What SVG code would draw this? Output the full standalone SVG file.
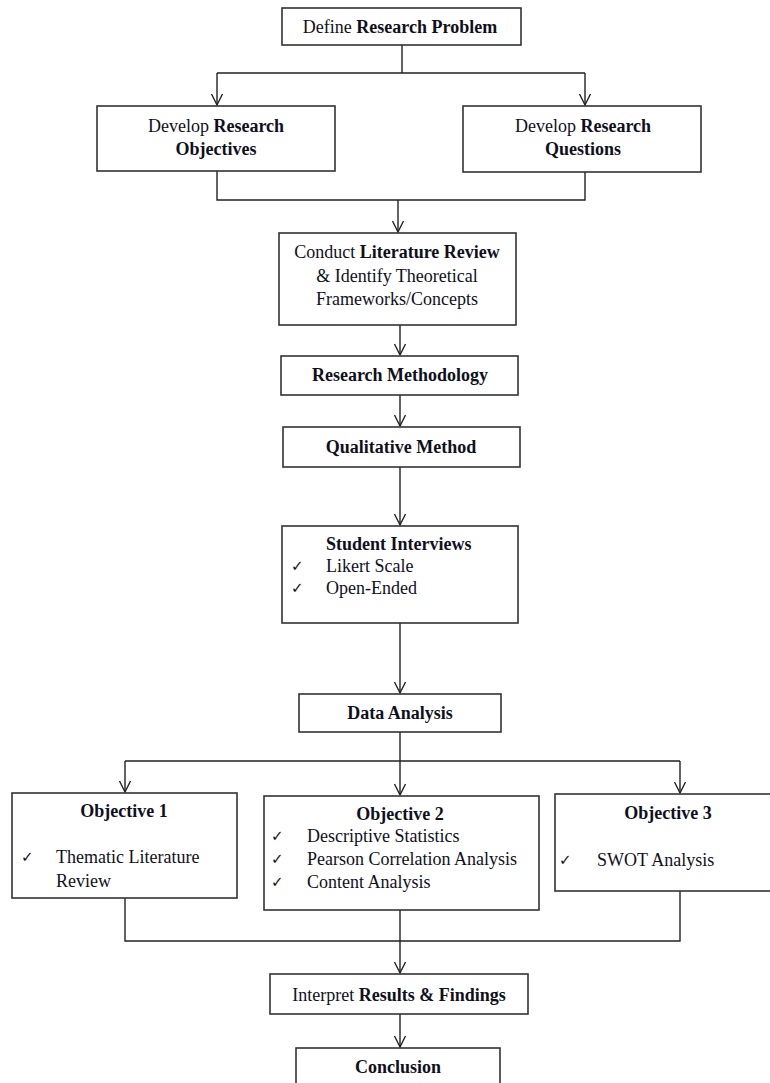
<svg xmlns="http://www.w3.org/2000/svg" width="770" height="1083" viewBox="0 0 770 1083">
<defs>
<style>
.box{fill:#fff;stroke:#333;stroke-width:1.6}
.ln{fill:none;stroke:#222;stroke-width:1.4}
.t{font-family:"Liberation Serif","Times New Roman",serif;font-size:18px;fill:#10101c}
.c{text-anchor:middle}
.b{font-weight:bold}
.ck{font-family:"DejaVu Sans",sans-serif;font-size:15px;fill:#10101c}
</style>
<marker id="arr" markerUnits="userSpaceOnUse" markerWidth="14" markerHeight="14" viewBox="-12 -7 14 14" refX="0" refY="0" orient="auto">
<path d="M-11,-5.5 L0,0 L-11,5.5" fill="none" stroke="#222" stroke-width="1.4"/>
</marker>
</defs>
<rect width="770" height="1083" fill="#fff"/>
<g id="connectors">
<path class="ln" d="M402,45 V73 M217,73 H585"/>
<path class="ln" d="M217,73 V105" marker-end="url(#arr)"/>
<path class="ln" d="M585,73 V105" marker-end="url(#arr)"/>
<path class="ln" d="M217,171 V200 H585 V172"/>
<path class="ln" d="M398,200 V232" marker-end="url(#arr)"/>
<path class="ln" d="M400,325 V355" marker-end="url(#arr)"/>
<path class="ln" d="M400,395 V426" marker-end="url(#arr)"/>
<path class="ln" d="M400,467 V525" marker-end="url(#arr)"/>
<path class="ln" d="M400,623 V693" marker-end="url(#arr)"/>
<path class="ln" d="M400,732 V761 M125,761 H680"/>
<path class="ln" d="M125,761 V792" marker-end="url(#arr)"/>
<path class="ln" d="M400,761 V795" marker-end="url(#arr)"/>
<path class="ln" d="M680,761 V793" marker-end="url(#arr)"/>
<path class="ln" d="M125,898 V941 H680 V891 M400,910 V941"/>
<path class="ln" d="M400,941 V973" marker-end="url(#arr)"/>
<path class="ln" d="M400,1014 V1047" marker-end="url(#arr)"/>
</g>
<g id="define-problem">
<rect class="box" x="282" y="8" width="239" height="37"/>
<text class="t c" x="400" y="33">Define <tspan class="b">Research Problem</tspan></text>
</g>
<g id="research-objectives">
<rect class="box" x="97" y="106" width="238" height="65"/>
<text class="t c" x="216" y="132">Develop <tspan class="b">Research</tspan></text>
<text class="t c b" x="216" y="155">Objectives</text>
</g>
<g id="research-questions">
<rect class="box" x="463" y="106" width="238" height="66"/>
<text class="t c" x="583" y="132">Develop <tspan class="b">Research</tspan></text>
<text class="t c b" x="583" y="155">Questions</text>
</g>
<g id="literature-review">
<rect class="box" x="279" y="233" width="237" height="92"/>
<text class="t c" x="397" y="258">Conduct <tspan class="b">Literature Review</tspan></text>
<text class="t c" x="397" y="282">&amp; Identify Theoretical</text>
<text class="t c" x="397" y="305">Frameworks/Concepts</text>
</g>
<g id="research-methodology">
<rect class="box" x="281" y="356" width="237" height="39"/>
<text class="t c b" x="400" y="381">Research Methodology</text>
</g>
<g id="qualitative-method">
<rect class="box" x="283" y="427" width="237" height="40"/>
<text class="t c b" x="401" y="453">Qualitative Method</text>
</g>
<g id="student-interviews">
<rect class="box" x="282" y="526" width="236" height="97"/>
<text class="t b" x="326" y="550">Student Interviews</text>
<text class="ck" x="291" y="571">✓</text>
<text class="t" x="326" y="572">Likert Scale</text>
<text class="ck" x="291" y="593">✓</text>
<text class="t" x="326" y="594">Open-Ended</text>
</g>
<g id="data-analysis">
<rect class="box" x="299" y="694" width="202" height="38"/>
<text class="t c b" x="400" y="719">Data Analysis</text>
</g>
<g id="objective-1">
<rect class="box" x="12" y="793" width="225" height="105"/>
<text class="t c b" x="124" y="817">Objective 1</text>
<text class="ck" x="21" y="862">✓</text>
<text class="t" x="56" y="863">Thematic Literature</text>
<text class="t" x="56" y="887">Review</text>
</g>
<g id="objective-2">
<rect class="box" x="264" y="796" width="275" height="114"/>
<text class="t c b" x="400" y="820">Objective 2</text>
<text class="ck" x="271" y="841">✓</text>
<text class="t" x="307" y="842">Descriptive Statistics</text>
<text class="ck" x="271" y="864">✓</text>
<text class="t" x="307" y="865">Pearson Correlation Analysis</text>
<text class="ck" x="271" y="887">✓</text>
<text class="t" x="307" y="888">Content Analysis</text>
</g>
<g id="objective-3">
<rect class="box" x="555" y="794" width="222" height="97"/>
<text class="t c b" x="668" y="819">Objective 3</text>
<text class="ck" x="559" y="865">✓</text>
<text class="t" x="597" y="866">SWOT Analysis</text>
</g>
<g id="interpret-results">
<rect class="box" x="270" y="974" width="258" height="40"/>
<text class="t c" x="399" y="1001">Interpret <tspan class="b">Results &amp; Findings</tspan></text>
</g>
<g id="conclusion">
<rect class="box" x="296" y="1048" width="204" height="45"/>
<text class="t c b" x="398" y="1073">Conclusion</text>
</g>
</svg>
